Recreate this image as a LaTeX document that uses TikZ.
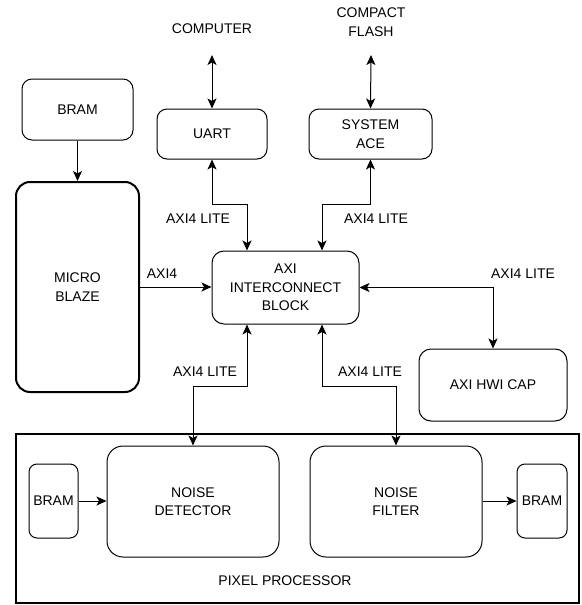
\documentclass[tikz,border=0pt]{standalone}
\usepackage{fontspec}
\setmainfont{Liberation Sans}
\usetikzlibrary{arrows.meta}
\begin{document}
\begin{tikzpicture}[x=1pt,y=-1pt,
  font=\fontsize{14}{18.5}\selectfont,
  box/.style={draw, line width=1pt, rounded corners=10pt, align=center, inner sep=2pt},
  bigbox/.style={draw, line width=1pt, rounded corners=16pt, align=center, inner sep=2pt},
  lbl/.style={inner sep=0pt, align=center},
  conn/.style={line width=1pt, -{Stealth[length=10pt,width=9pt,inset=2.5pt]}},
  bconn/.style={line width=1pt, {Stealth[length=10pt,width=9pt,inset=2.5pt]}-{Stealth[length=10pt,width=9pt,inset=2.5pt]}}
]
\useasboundingbox (0,0) rectangle (581,605);

\node[box, minimum width=111pt, minimum height=61pt] (bram1) at (77.5,109.5) {BRAM};
\node[draw, line width=2pt, rounded corners=14pt, align=center, minimum width=123pt, minimum height=210pt] (mb) at (77.5,287) {MICRO\\BLAZE};
\node[box, minimum width=110pt, minimum height=50pt] (uart) at (212,134) {UART};
\node[box, minimum width=123pt, minimum height=50pt] (sace) at (370.5,134) {SYSTEM\\ACE};
\node[lbl] (comp) at (212,29) {COMPUTER};
\node[lbl] (cf) at (371,22) {COMPACT\\FLASH};
\coordinate (compend) at (212,55);
\coordinate (cfend) at (371,55);
\node[box, rounded corners=12pt, minimum width=147pt, minimum height=73pt] (axi) at (285.5,287.5) {AXI\\INTERCONNECT\\BLOCK};
\node[box, rounded corners=12pt, minimum width=148pt, minimum height=72pt] (hwi) at (493,385) {AXI HWI CAP};

\node[draw, line width=2pt, minimum width=563pt, minimum height=169pt, inner sep=0pt] (pp) at (297.5,518.5) {};
\node[lbl] (pplbl) at (285,581) {PIXEL PROCESSOR};
\node[bigbox, minimum width=172pt, minimum height=111pt] (nd) at (193,501.5) {NOISE\\DETECTOR};
\node[bigbox, minimum width=172pt, minimum height=111pt] (nf) at (396,501.5) {NOISE\\FILTER};
\node[box, rounded corners=8pt, minimum width=49pt, minimum height=74pt, inner sep=1pt] (bramL) at (53.5,501) {BRAM};
\node[box, rounded corners=8pt, minimum width=50pt, minimum height=74pt, inner sep=1pt] (bramR) at (542,501) {BRAM};

% connectors
\draw[conn] (bram1.south) -- (mb.north);
\draw[bconn] (compend) -- (uart.north);
\draw[bconn] (cfend) -- (sace.north);
\draw[bconn] (uart.south) -- ++(0,45) -| ([xshift=-38.5pt]axi.north);
\draw[bconn] (sace.south) -- ++(0,45) -| ([xshift=36.5pt]axi.north);
\draw[conn] (mb.east) -- (mb.east -| axi.west);
\draw[bconn] (axi.east) -| (hwi.north);
\draw[bconn] ([xshift=-38.5pt]axi.south) -- ++(0,62) -| (nd.north);
\draw[bconn] ([xshift=36.5pt]axi.south) -- ++(0,62) -| (nf.north);
\draw[conn] (bramL.east) -- (nd.west |- bramL.east);
\draw[conn] (nf.east |- bramR.west) -- (bramR.west);

% labels
\node[lbl] (l1) at (198,219) {AXI4 LITE};
\node[lbl] (l2) at (376,219) {AXI4 LITE};
\node[lbl] (l3) at (523,274) {AXI4 LITE};
\node[lbl] (l4) at (205,372) {AXI4 LITE};
\node[lbl] (l5) at (370,372) {AXI4 LITE};
\node[lbl] (l6) at (162,274) {AXI4};
\end{tikzpicture}
\end{document}
